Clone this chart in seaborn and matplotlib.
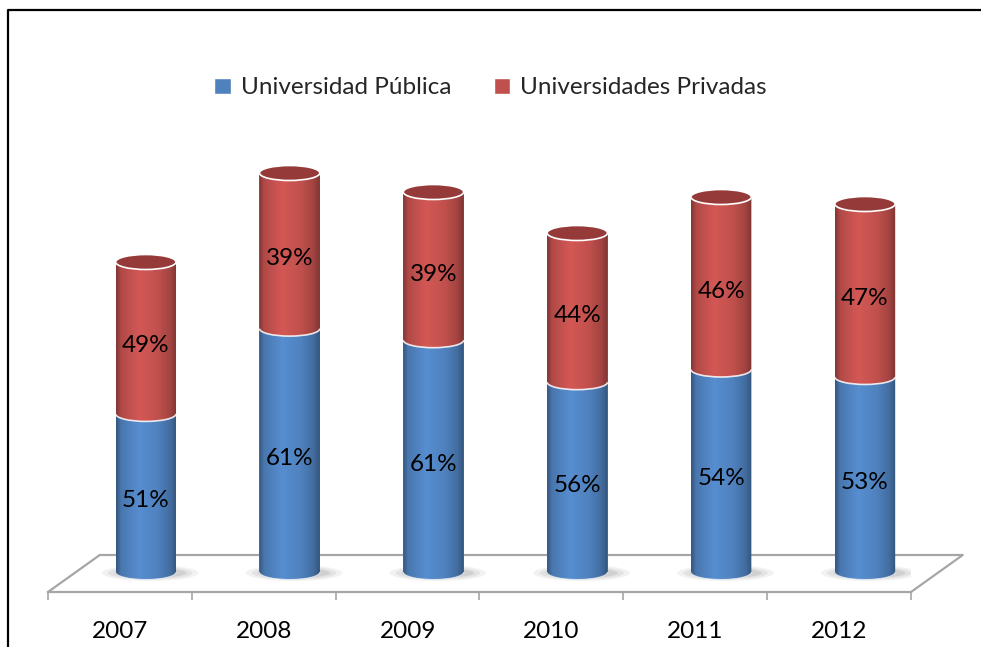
import numpy as np
import matplotlib
matplotlib.use("Agg")
import matplotlib.pyplot as plt
import matplotlib.colors as mcolors
import seaborn as sns
from matplotlib.patches import Ellipse, Arc, PathPatch, Patch
from matplotlib.path import Path
from matplotlib.lines import Line2D

# ---- data -------------------------------------------------------------
years = ["2007", "2008", "2009", "2010", "2011", "2012"]
pct_publica = [51, 61, 61, 56, 54, 53]
pct_privadas = [49, 39, 39, 44, 46, 47]
matricula_total = [310, 399, 380, 339, 375, 368]   # relative enrolment index
series_names = ["Universidad Pública", "Universidades Privadas"]

BLUE = "#4f81bd"
RED = "#c0504d"
GRID_GRAY = "#a6a6a6"

sns.set_theme(style="white")
plt.rcParams["font.family"] = ["Lato", "DejaVu Sans"]

publica = [t * p / 100 for t, p in zip(matricula_total, pct_publica)]

W, H = 981, 647
fig = plt.figure(figsize=(W / 100, H / 100), dpi=100)
ax = fig.add_axes([48 / W, 1 - 592 / H, 863 / W, 462 / H])

# stacked bars: full total in red, public share in blue on top of it
sns.barplot(x=years, y=matricula_total, color=RED, width=0.42, saturation=1,
            linewidth=0, errorbar=None, ax=ax)
red_bars = list(ax.patches)
sns.barplot(x=years, y=publica, color=BLUE, width=0.42, saturation=1,
            linewidth=0, errorbar=None, ax=ax)
blue_bars = [p for p in ax.patches if p not in red_bars]

RY = 7.5          # half height of the cylinder ellipses (y units)
X_SHIFT = 0.18    # depth offset of the floor in category units


def shade(color, n=80):
    t = np.linspace(0, 1, n)
    k = np.interp(t, [0, .08, .38, .7, .9, 1], [.68, .92, 1.10, 1.0, .84, .66])
    rgb = np.array(mcolors.to_rgb(color))
    return np.clip(rgb[None, :] * k[:, None], 0, 1)[None, :, :]


def side_path(x0, x1, y0, y1, ry, n=48):
    cx, rx = (x0 + x1) / 2, (x1 - x0) / 2
    th = np.linspace(np.pi, 2 * np.pi, n)
    arc = np.column_stack([cx + rx * np.cos(th), y0 + ry * np.sin(th)])
    verts = np.vstack([arc, [[x1, y1], [x0, y1], arc[0]]])
    codes = [Path.MOVETO] + [Path.LINETO] * (len(verts) - 2) + [Path.CLOSEPOLY]
    return Path(verts, codes)


for i, (rb, bb) in enumerate(zip(red_bars, blue_bars)):
    x0 = rb.get_x()
    w = rb.get_width()
    x1 = x0 + w
    cx = x0 + w / 2
    top = rb.get_height()
    split = bb.get_height()

    # soft floor shadow
    for sw, sh, a in [(w * 1.6, 16, 0.07), (w * 1.4, 13, 0.09),
                      (w * 1.2, 10, 0.12)]:
        ax.add_patch(Ellipse((cx + 0.03, -1), sw, sh, color="0.3", alpha=a,
                             lw=0, zorder=0.6))

    # cylinder sides
    for lo, hi, col in [(0, split, BLUE), (split, top, RED)]:
        clip = PathPatch(side_path(x0, x1, lo, hi, RY), transform=ax.transData,
                         facecolor="none", edgecolor="none")
        im = ax.imshow(shade(col), extent=[x0, x1, lo - RY, hi], aspect="auto",
                       interpolation="bilinear", zorder=2)
        im.set_clip_path(clip)

    # rims
    ax.add_patch(Arc((cx, 0), w, 2 * RY, theta1=180, theta2=360, color="white",
                     lw=0.8, alpha=0.6, zorder=3))
    ax.add_patch(Arc((cx, split), w, 2 * RY, theta1=180, theta2=360, color="white",
                     lw=1.2, alpha=0.85, zorder=3))
    ax.add_patch(Ellipse((cx, top), w, 2 * RY, facecolor="#953a38",
                         edgecolor="white", lw=1.2, zorder=3))

    # value labels
    ax.text(cx, split / 2 - 8, f"{pct_publica[i]}%", ha="center", va="center",
            fontsize=17.5, color="black", zorder=4)
    ax.text(cx, (split + top) / 2 - 8, f"{pct_privadas[i]}%", ha="center",
            va="center", fontsize=17.5, color="black", zorder=4)

n = len(years)
xmin, xmax = -0.5 - X_SHIFT, n - 0.5 - X_SHIFT
ymin, ymax = -20, 442
ax.set_xlim(xmin, xmax)
ax.set_ylim(ymin, ymax)

# 3D floor outline
depth_x, depth_y = 2 * X_SHIFT, 37
ax.plot([xmin, xmin + depth_x, xmax + depth_x, xmax],
        [ymin, ymin + depth_y, ymin + depth_y, ymin],
        color=GRID_GRAY, lw=1.6, clip_on=False, zorder=0.5)

# axis styling
for side in ["left", "top", "right"]:
    ax.spines[side].set_visible(False)
ax.spines["bottom"].set_color(GRID_GRAY)
ax.spines["bottom"].set_linewidth(1.6)
ax.set_yticks([])
ax.set_xlabel("")
ax.set_ylabel("")
ax.set_xticks([i - X_SHIFT for i in range(n)])
ax.set_xticklabels(years, fontsize=17.5, color="black")
ax.set_xticks(np.arange(n + 1) - 0.5 - X_SHIFT, minor=True)
ax.tick_params(axis="x", which="major", length=0, pad=21)
ax.tick_params(axis="x", which="minor", bottom=True, length=6, width=1.2,
               color=GRID_GRAY)
ax.set_facecolor("none")

# legend
handles = [Patch(facecolor=BLUE, label=series_names[0]),
           Patch(facecolor=RED, label=series_names[1])]
fig.legend(handles=handles, loc="center", bbox_to_anchor=(0.5, 1 - 88 / H),
           ncol=2, frameon=False, fontsize=17.5, handlelength=0.68,
           handleheight=0.68, handletextpad=0.4, columnspacing=1.75)

# chart border
fig.add_artist(Line2D([8 / W, 8 / W, 1.0], [0, 1 - 10 / H, 1 - 10 / H],
                      color="black", lw=1.6, transform=fig.transFigure))

fig.savefig("out.png", dpi=100)
